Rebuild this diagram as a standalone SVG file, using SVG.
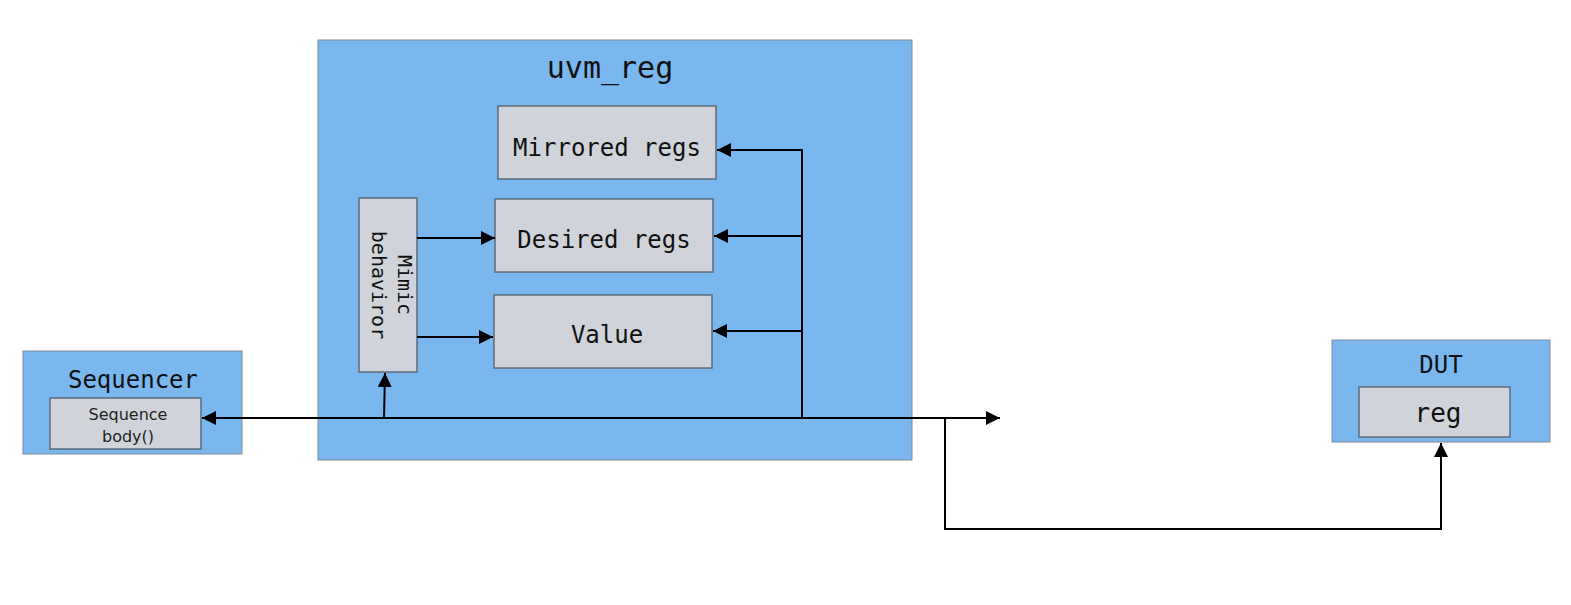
<svg xmlns="http://www.w3.org/2000/svg" width="1571" height="605" viewBox="0 0 1571 605">
<defs>
<style>
.outer{fill:#79b7ee;stroke:#7f8c99;stroke-width:1}
.inner{fill:#d0d4da;stroke:#5f6b77;stroke-width:1.5}
.t{font-family:"DejaVu Sans Mono",monospace;fill:#111;text-anchor:middle}
.s{font-family:"DejaVu Sans",sans-serif;fill:#222;text-anchor:middle}
.c{fill:none;stroke:#000;stroke-width:2}
</style>
<marker id="ah" viewBox="0 0 10 10" refX="10" refY="5" markerWidth="14" markerHeight="14" markerUnits="userSpaceOnUse" orient="auto-start-reverse">
<path d="M0,0 L10,5 L0,10 z" fill="#000"/>
</marker>
</defs>
<rect width="1571" height="605" fill="#fff"/>
<g id="uvm_reg">
<rect class="outer" x="318" y="40" width="594" height="420"/>
<text class="t" x="610" y="78" font-size="30">uvm_reg</text>
</g>
<g id="mirrored">
<rect class="inner" x="498" y="106" width="218" height="73"/>
<text class="t" x="607" y="156" font-size="24">Mirrored regs</text>
</g>
<g id="desired">
<rect class="inner" x="495" y="199" width="218" height="73"/>
<text class="t" x="604" y="248" font-size="24">Desired regs</text>
</g>
<g id="value">
<rect class="inner" x="494" y="295" width="218" height="73"/>
<text class="t" x="607" y="343" font-size="24">Value</text>
</g>
<g id="mimic">
<rect class="inner" x="359" y="198" width="58" height="174"/>
<text class="t" font-size="20" transform="translate(388,285) rotate(90)"><tspan x="0" y="-10">Mimic</tspan><tspan x="0" y="16">behaviror</tspan></text>
</g>
<g id="sequencer">
<rect class="outer" x="23" y="351" width="219" height="103"/>
<text class="t" x="133" y="388" font-size="24">Sequencer</text>
<rect class="inner" x="50" y="398" width="151" height="51"/>
<text class="s" x="128" y="420" font-size="16">Sequence</text>
<text class="s" x="128" y="442" font-size="16">body()</text>
</g>
<g id="dut">
<rect class="outer" x="1332" y="340" width="218" height="102"/>
<text class="t" x="1441" y="373" font-size="24">DUT</text>
<rect class="inner" x="1359" y="387" width="151" height="50"/>
<text class="t" x="1438" y="422" font-size="26">reg</text>
</g>
<g id="connectors">
<path class="c" d="M1000,418 L202,418" marker-start="url(#ah)" marker-end="url(#ah)"/>
<path class="c" d="M802,418 L802,150 L717,150" marker-end="url(#ah)"/>
<path class="c" d="M802,236 L714,236" marker-end="url(#ah)"/>
<path class="c" d="M802,331 L713,331" marker-end="url(#ah)"/>
<path class="c" d="M384,418 L385,373" marker-end="url(#ah)"/>
<path class="c" d="M417,238 L495,238" marker-end="url(#ah)"/>
<path class="c" d="M417,337 L493,337" marker-end="url(#ah)"/>
<path class="c" d="M945,418 L945,529 L1441,529 L1441,443" marker-end="url(#ah)"/>
</g>
</svg>
